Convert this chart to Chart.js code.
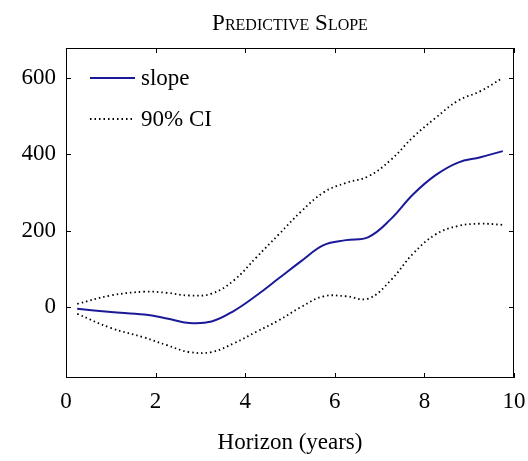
<!DOCTYPE html>
<html>
<head>
<meta charset="utf-8">
<script src="https://cdn.jsdelivr.net/npm/chart.js@4"></script>
<style>
body { margin: 0; background: #fff; }
#wrap { width: 528px; height: 461px; }
</style>
</head>
<body>
<div id="wrap"><canvas id="myChart" width="528" height="461"></canvas></div>
<script>
// data
const horizon = [0.25, 1, 1.75, 2.25, 2.75, 3.25, 3.75, 4.25, 4.75, 5.25, 5.75, 6.25, 6.75, 7.25, 7.75, 8.25, 8.75, 9.25, 9.75];
const slope = [-5, -13, -20, -30, -42, -38, -10, 30, 75, 120, 162, 175, 183, 230, 295, 345, 378, 392, 408];
const upperCI = [8, 30, 40, 37, 30, 35, 70, 130, 190, 250, 300, 325, 342, 385, 445, 495, 540, 565, 600];
const lowerCI = [-18, -55, -80, -100, -118, -118, -95, -65, -35, 0, 28, 28, 22, 70, 140, 190, 212, 218, 215];
const xTicks = [0, 2, 4, 6, 8, 10];
const yTicks = [0, 200, 400, 600];

const FONT = "'Liberation Serif', 'DejaVu Serif', serif";
const FS = 23;

function pts(ys) {
    return horizon.map(function(x, i) { return {x: x, y: ys[i]}; });
}

const framePlugin = {
    id: 'frame',
    afterDraw: function(chart) {
        const ctx = chart.ctx;
        const a = chart.chartArea;
        const xs = chart.scales.x, ys = chart.scales.y;
        ctx.save();
        ctx.strokeStyle = '#000';
        ctx.lineWidth = 1;
        ctx.setLineDash([]);
        ctx.strokeRect(a.left + 0.5, a.top + 0.5, a.right - a.left - 1, a.bottom - a.top - 1);
        // inward ticks
        xTicks.forEach(function(v) {
            const px = Math.round(xs.getPixelForValue(v)) + 0.5;
            ctx.beginPath();
            ctx.moveTo(px, a.bottom); ctx.lineTo(px, a.bottom - 5);
            ctx.moveTo(px, a.top); ctx.lineTo(px, a.top + 5);
            ctx.stroke();
        });
        yTicks.forEach(function(v) {
            const py = Math.round(ys.getPixelForValue(v)) + 0.5;
            ctx.beginPath();
            ctx.moveTo(a.left, py); ctx.lineTo(a.left + 5, py);
            ctx.moveTo(a.right, py); ctx.lineTo(a.right - 5, py);
            ctx.stroke();
        });
        // title
        ctx.fillStyle = '#000';
        ctx.font = 'small-caps ' + FS + 'px ' + FONT;
        ctx.textAlign = 'center';
        ctx.textBaseline = 'alphabetic';
        ctx.fillText('Predictive Slope', (a.left + a.right) / 2, 30);
        // legend
        ctx.font = FS + 'px ' + FONT;
        ctx.textAlign = 'left';
        ctx.textBaseline = 'middle';
        const items = [
            {label: 'slope', color: '#1a1a99', dash: [], y: 78},
            {label: '90% CI', color: '#000', dash: [1.5, 3], y: 119}
        ];
        items.forEach(function(it) {
            ctx.strokeStyle = it.color;
            ctx.lineWidth = it.dash.length ? 1.8 : 2;
            ctx.setLineDash(it.dash);
            ctx.beginPath();
            ctx.moveTo(90, it.y); ctx.lineTo(135, it.y);
            ctx.stroke();
            ctx.fillText(it.label, 141, it.y + 1);
        });
        ctx.restore();
    }
};

var ctx = document.getElementById('myChart').getContext('2d');
var chart = new Chart(ctx, {
    type: 'line',
    data: {
        datasets: [{
            label: 'slope',
            data: pts(slope),
            borderColor: '#1a1a99',
            borderWidth: 2,
            pointRadius: 0,
            tension: 0.4
        }, {
            label: '90% CI upper',
            data: pts(upperCI),
            borderColor: '#000',
            borderWidth: 1.8,
            borderDash: [1.5, 3],
            pointRadius: 0,
            tension: 0.4
        }, {
            label: '90% CI lower',
            data: pts(lowerCI),
            borderColor: '#000',
            borderWidth: 1.8,
            borderDash: [1.5, 3],
            pointRadius: 0,
            tension: 0.4
        }]
    },
    options: {
        responsive: false,
        animation: false,
        layout: { padding: { top: 48, right: 14, left: 0, bottom: 0 } },
        plugins: { legend: { display: false }, tooltip: { enabled: false } },
        scales: {
            x: {
                type: 'linear', min: 0, max: 10,
                afterBuildTicks: function(s) { s.ticks = xTicks.map(function(v) { return {value: v}; }); },
                afterFit: function(s) { s.height = 83; s.paddingRight = 0; s.paddingLeft = 0; },
                grid: { display: false, drawTicks: false },
                border: { display: false },
                ticks: { color: '#000', font: { family: FONT, size: FS }, padding: 10, maxRotation: 0 },
                title: { display: true, text: 'Horizon (years)', color: '#000', font: { family: FONT, size: FS }, padding: { top: 4 } }
            },
            y: {
                min: -186, max: 678,
                afterBuildTicks: function(s) { s.ticks = yTicks.map(function(v) { return {value: v}; }); },
                afterFit: function(s) { s.width = 66; },
                grid: { display: false, drawTicks: false },
                border: { display: false },
                ticks: { color: '#000', font: { family: FONT, size: FS }, padding: 10 }
            }
        }
    },
    plugins: [framePlugin]
});
</script>
</body>
</html>
